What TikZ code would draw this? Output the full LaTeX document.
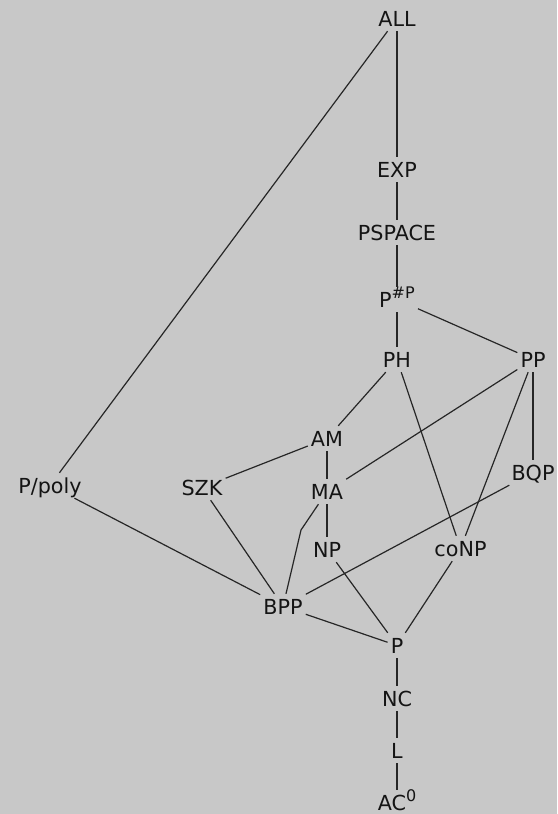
\documentclass[tikz,border=0pt]{standalone}
\usepackage{fontspec}
\setmainfont{DejaVu Sans}
\definecolor{bggray}{HTML}{C8C8C8}
\definecolor{edgecol}{HTML}{262626}
\definecolor{txtcol}{HTML}{141414}
\newcommand{\supx}[1]{\raisebox{9pt}{\fontsize{16}{16}\selectfont #1}}
\begin{document}
\begin{tikzpicture}[x=1pt,y=-1pt,
  cls/.style={anchor=center, inner xsep=3pt, inner ysep=5pt, text height=15pt, text depth=0pt,
    font=\fontsize{20.7}{24}\selectfont, text=txtcol},
  link/.style={draw=edgecol, line width=1.2pt}]
\fill[bggray] (0,0) rectangle (557,814);
\useasboundingbox (0,0) rectangle (557,814);
\node[cls] (ALL) at (397,18.5) {ALL};
\node[cls] (EXP) at (397,169.5) {EXP};
\node[cls] (PSPACE) at (397,232.5) {PSPACE};
\node[cls] (PSP) at (397,299.5) {P\supx{\#P}};
\node[cls] (PH) at (397,359.5) {PH};
\node[cls] (PP) at (533,359.5) {PP};
\node[cls] (AM) at (327,438.5) {AM};
\node[cls] (MA) at (327,491.5) {MA};
\node[cls] (SZK) at (202,487.5) {SZK};
\node[cls] (Ppoly) at (50,485.5) {P/poly};
\node[cls] (BQP) at (533,472.5) {BQP};
\node[cls] (NP) at (327,549.5) {NP};
\node[cls] (coNP) at (460.5,548.5) {coNP};
\node[cls] (BPP) at (283,606.5) {BPP};
\node[cls] (P) at (397,645.5) {P};
\node[cls] (NC) at (397,698.5) {NC};
\node[cls] (L) at (397,750.5) {L};
\node[cls] (AC) at (397,803) {AC\supx{0}};
\coordinate (bend) at (301,530);
\draw[link] (ALL) -- (EXP);
\draw[link] (ALL) -- (Ppoly);
\draw[link] (EXP) -- (PSPACE);
\draw[link] (PSPACE) -- (PSP);
\draw[link] (PSP) -- (PH);
\draw[link] (PSP) -- (PP);
\draw[link] (PH) -- (AM);
\draw[link] (PH) -- (coNP);
\draw[link] (PP) -- (MA);
\draw[link] (PP) -- (coNP);
\draw[link] (PP) -- (BQP);
\draw[link] (AM) -- (SZK);
\draw[link] (AM) -- (MA);
\draw[link] (MA) -- (NP);
\draw[link] (MA) -- (bend) -- (BPP);
\draw[link] (SZK) -- (BPP);
\draw[link] (Ppoly) -- (BPP);
\draw[link] (BQP) -- (BPP);
\draw[link] (NP) -- (P);
\draw[link] (coNP) -- (P);
\draw[link] (BPP) -- (P);
\draw[link] (P) -- (NC);
\draw[link] (NC) -- (L);
\draw[link] (L) -- (AC);
\end{tikzpicture}
\end{document}
